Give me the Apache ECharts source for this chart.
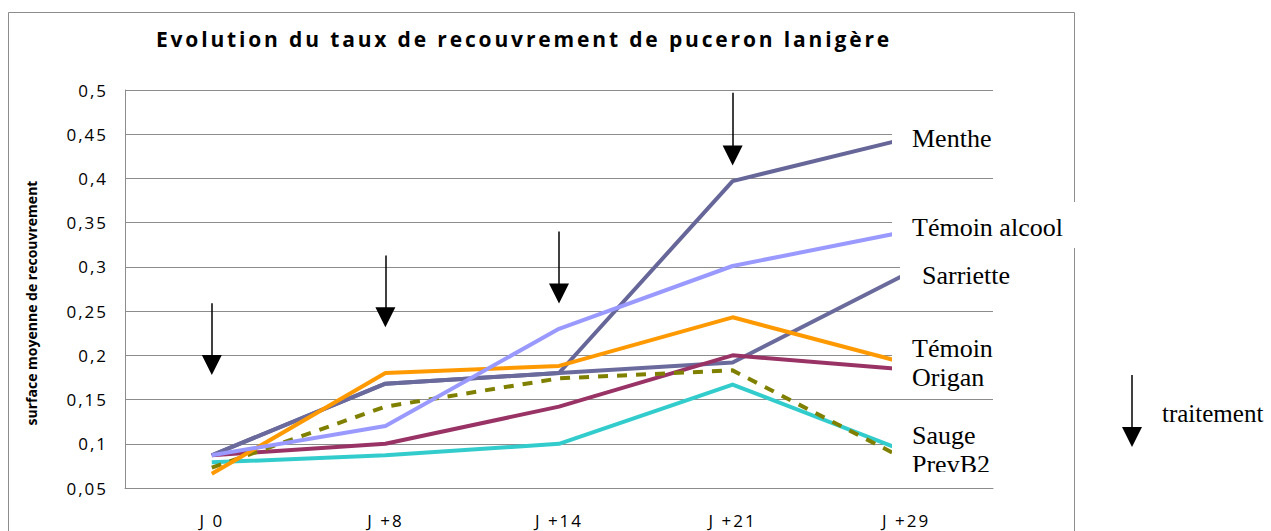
<!DOCTYPE html>
<html>
<head>
<meta charset="utf-8">
<script src="https://cdn.jsdelivr.net/npm/echarts@6/dist/echarts.min.js"></script>
<style>
html, body { margin: 0; padding: 0; background: #fff; }
#chart { width: 1271px; height: 531px; }
/* l'original a un texte très espacé (Calibri exporté en PDF) */
#chart text[style*="21px"] { letter-spacing: 2.85px; }
#chart text[style*="17px"] { letter-spacing: 2px; }
</style>
</head>
<body>
<div id="chart"></div>
<script>
// jours de mesure
const days = ['J 0', 'J +8', 'J +14', 'J +21', 'J +29'];

// surface moyenne de recouvrement
const menthe       = [0.087, 0.168, 0.180, 0.397, 0.445];
const sarriette    = [0.087, 0.168, 0.180, 0.192, 0.292];
const temoinAlcool = [0.087, 0.120, 0.230, 0.301, 0.340];
const temoin       = [0.066, 0.180, 0.188, 0.243, 0.191];
const origan       = [0.087, 0.100, 0.142, 0.200, 0.184];
const sauge        = [0.079, 0.087, 0.100, 0.167, 0.091];
const prevB2       = [0.073, 0.142, 0.174, 0.183, 0.082];

// axe des y
const yMin = 0.05;
const yMax = 0.5;
const yStep = 0.05;

// flèches "traitement" : jour, haut de la flèche, centre de la pointe
const treatmentDays = ['J 0', 'J +8', 'J +14', 'J +21'];
const arrowTop  = [0.259, 0.313, 0.340, 0.497];
const arrowHead = [0.189, 0.243, 0.270, 0.426];

const chart = echarts.init(document.getElementById('chart'), null, { renderer: 'svg' });

function lineSeries(name, data, color, dashed) {
  return {
    name: name,
    type: 'line',
    data: data,
    symbol: 'none',
    lineStyle: { color: color, width: 4, type: dashed ? [10, 9] : 'solid', join: 'round' },
    emphasis: { disabled: true },
    silent: true
  };
}

const series = [
  lineSeries('Menthe', menthe, '#666699'),
  lineSeries('Sarriette', sarriette, '#6a6a9c'),
  lineSeries('Origan', origan, '#993366'),
  lineSeries('Sauge', sauge, '#33CCCC'),
  lineSeries('PrevB2', prevB2, '#808000', true),
  lineSeries('Témoin', temoin, '#FF9900'),
  lineSeries('Témoin alcool', temoinAlcool, '#9999FF')
];

// les flèches de traitement
series[0].markLine = {
  silent: true,
  animation: false,
  symbol: ['none', 'triangle'],
  symbolSize: [20, 20],
  lineStyle: { color: '#000', width: 1.5, type: 'solid' },
  label: { show: false },
  emphasis: { disabled: true },
  data: treatmentDays.map((d, i) => [
    { coord: [d, arrowTop[i]] },
    { coord: [d, arrowHead[i]] }
  ])
};

// étiquettes posées à la main à droite (fond blanc comme dans Excel)
function labelBox(text, x, y, w, h, tx, ty) {
  return [
    { type: 'rect', z: 100, silent: true, shape: { x: x, y: y, width: w, height: h }, style: { fill: '#fff' } },
    {
      type: 'text', z: 101, silent: true, x: tx, y: ty,
      style: { text: text, fontSize: 26, fontFamily: 'Liberation Serif', fill: '#000', verticalAlign: 'middle', lineHeight: 29 }
    }
  ];
}

const graphics = [
  // cadre du graphique
  { type: 'rect', z: 0, silent: true, shape: { x: 8.5, y: 12.5, width: 1066, height: 560 }, style: { fill: 'none', stroke: '#8c8c8c', lineWidth: 1 } },
  ...labelBox('Menthe', 892, 118, 115, 38, 912, 138),
  ...labelBox('Témoin alcool', 892, 202, 186, 46, 912, 227),
  ...labelBox('Sarriette', 900, 255, 115, 40, 922, 275),
  ...labelBox('Témoin\nOrigan', 892, 335, 110, 58, 912, 363),
  ...labelBox('Sauge\nPrevB2', 892, 420, 110, 52, 912, 450),
  // la zone de texte coupe "PrevB2"
  { type: 'rect', z: 102, silent: true, shape: { x: 896, y: 472, width: 110, height: 12 }, style: { fill: '#fff' } },
  // légende de la flèche
  { type: 'line', z: 100, silent: true, shape: { x1: 1132, y1: 375, x2: 1132, y2: 430 }, style: { stroke: '#000', lineWidth: 1.5 } },
  { type: 'polygon', z: 100, silent: true, shape: { points: [[1122, 427], [1142, 427], [1132, 447]] }, style: { fill: '#000' } },
  { type: 'text', z: 100, silent: true, x: 1162, y: 413, style: { text: 'traitement', fontSize: 25, fontFamily: 'Liberation Serif', fill: '#000', verticalAlign: 'middle' } }
];

chart.setOption({
  animation: false,
  title: {
    text: 'Evolution du taux de recouvrement de puceron lanigère',
    left: 519,
    top: 23,
    textAlign: 'center',
    textStyle: { fontFamily: 'Open Sans', fontSize: 21, fontWeight: 'bold', color: '#000' }
  },
  grid: { left: 125, right: 278, top: 90, bottom: 43 },
  xAxis: {
    type: 'category',
    data: days,
    boundaryGap: true,
    axisLine: { lineStyle: { color: '#8c8c8c', width: 1 } },
    axisTick: { show: false },
    axisLabel: { margin: 24, fontFamily: 'Open Sans', fontSize: 17, color: '#000' },
    splitLine: { show: false }
  },
  yAxis: {
    type: 'value',
    min: yMin,
    max: yMax,
    interval: yStep,
    name: 'surface moyenne de recouvrement',
    nameLocation: 'middle',
    nameGap: 87,
    nameTextStyle: { fontFamily: 'Open Sans', fontSize: 14, fontWeight: 'bold', color: '#000', padding: [0, 28, 0, 0] },
    axisLine: { show: true, lineStyle: { color: '#8c8c8c', width: 1 } },
    axisTick: { show: false },
    axisLabel: {
      margin: 17,
      fontFamily: 'Open Sans',
      fontSize: 17,
      color: '#000',
      formatter: v => String(parseFloat(v.toFixed(2))).replace('.', ',')
    },
    splitLine: { lineStyle: { color: '#8c8c8c', width: 1 } }
  },
  series: series,
  graphic: graphics
});
</script>
</body>
</html>
